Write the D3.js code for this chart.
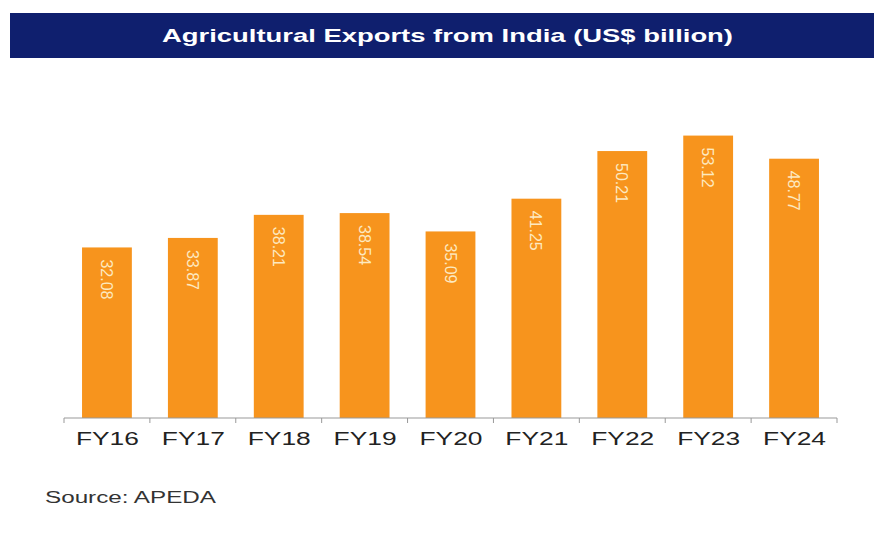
<!DOCTYPE html>
<html>
<head>
<meta charset="utf-8">
<script src="https://cdn.jsdelivr.net/npm/d3@7"></script>
<style>
  html, body { margin: 0; padding: 0; background: #ffffff; }
  svg { display: block; }
</style>
</head>
<body>
<svg id="chart" width="874" height="546"></svg>
<script>
// Agricultural exports from India, US$ billion, by fiscal year
const years = ["FY16", "FY17", "FY18", "FY19", "FY20", "FY21", "FY22", "FY23", "FY24"];
const exportsBn = [32.08, 33.87, 38.21, 38.54, 35.09, 41.25, 50.21, 53.12, 48.77];
const valueLabels = ["32.08", "33.87", "38.21", "38.54", "35.09", "41.25", "50.21", "53.12", "48.77"];

const titleText = "Agricultural Exports from India (US$ billion)";
const sourceText = "Source: APEDA";

const svg = d3.select("#chart");
const sans = "Liberation Sans, Arial, sans-serif";

// Header band
svg.append("rect")
  .attr("x", 10).attr("y", 13)
  .attr("width", 864).attr("height", 45)
  .attr("fill", "#0f1f6e");

svg.append("text")
  .attr("x", 162).attr("y", 42)
  .attr("textLength", 571)
  .attr("lengthAdjust", "spacingAndGlyphs")
  .attr("fill", "#ffffff")
  .attr("font-family", sans)
  .attr("font-weight", "bold")
  .attr("font-size", 19)
  .text(titleText);

// Scales
const x = d3.scaleBand()
  .domain(years)
  .range([64, 837])
  .paddingInner(0.42)
  .paddingOuter(0.21);

const y = d3.scaleLinear()
  .domain([0, 60])
  .range([418, 99]);

// Bars
const data = years.map((yr, i) => ({ yr, v: exportsBn[i], label: valueLabels[i] }));

svg.append("g")
  .selectAll("rect")
  .data(data)
  .join("rect")
  .attr("x", d => x(d.yr))
  .attr("y", d => y(d.v))
  .attr("width", x.bandwidth())
  .attr("height", d => y(0) - y(d.v))
  .attr("fill", "#f7941d");

// Value labels, rotated to run down from the top of each bar
svg.append("g")
  .selectAll("text")
  .data(data)
  .join("text")
  .attr("transform", d => `translate(${x(d.yr) + x.bandwidth() / 2},${y(d.v) + 12}) rotate(90)`)
  .attr("dy", "0.35em")
  .attr("text-anchor", "start")
  .attr("textLength", 40)
  .attr("lengthAdjust", "spacingAndGlyphs")
  .attr("fill", "#fde9c0")
  .attr("font-family", sans)
  .attr("font-size", 17)
  .text(d => d.label);

// X axis with ticks between the bands
const axisG = svg.append("g").attr("transform", `translate(0,${y(0)})`);
axisG.append("line")
  .attr("x1", 64).attr("x2", 837)
  .attr("stroke", "#999").attr("stroke-width", 1);

const step = x.step();
const bounds = d3.range(years.length + 1).map(i => x(years[0]) - x.paddingOuter() * step + i * step);
axisG.selectAll("line.tick")
  .data(bounds)
  .join("line")
  .attr("class", "tick")
  .attr("x1", d => d).attr("x2", d => d)
  .attr("y1", 0).attr("y2", 5)
  .attr("stroke", "#999");

axisG.selectAll("text")
  .data(years)
  .join("text")
  .attr("x", d => x(d) + x.bandwidth() / 2 - 31)
  .attr("y", 27)
  .attr("textLength", 63)
  .attr("lengthAdjust", "spacingAndGlyphs")
  .attr("fill", "#222")
  .attr("font-family", sans)
  .attr("font-size", 18)
  .text(d => d);

// Source note
svg.append("text")
  .attr("x", 45).attr("y", 503)
  .attr("textLength", 171)
  .attr("lengthAdjust", "spacingAndGlyphs")
  .attr("fill", "#333")
  .attr("font-family", sans)
  .attr("font-size", 16)
  .text(sourceText);
</script>
</body>
</html>
